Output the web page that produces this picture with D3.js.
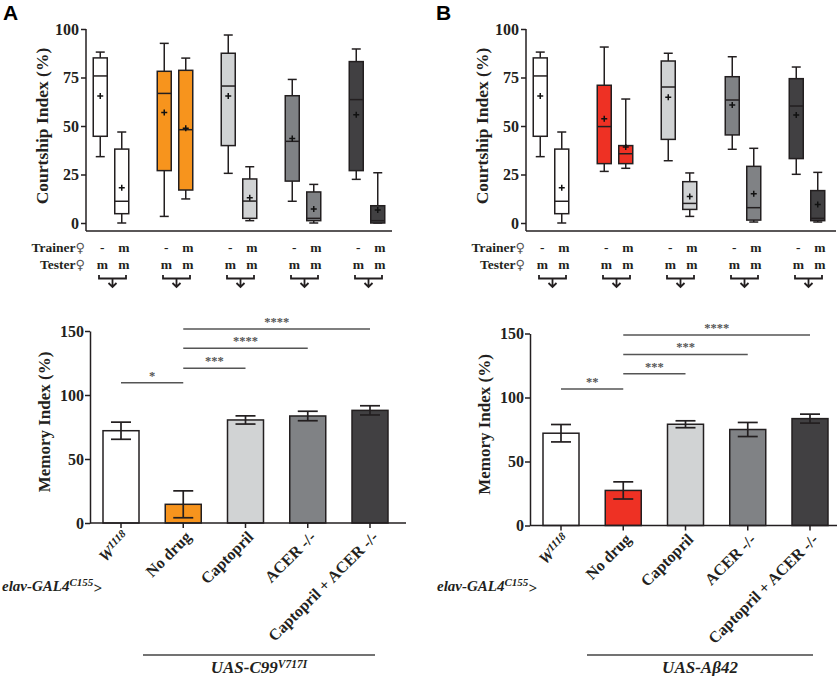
<!DOCTYPE html>
<html><head><meta charset="utf-8">
<script src="https://cdn.jsdelivr.net/npm/d3@7"></script>
<style>
body{margin:0;background:#fff;}
svg{display:block;}
text{font-family:"Liberation Serif","Times New Roman",serif;font-weight:bold;fill:#231f20;}
</style></head>
<body>
<svg id="chart" width="837" height="676"></svg>
<script>
// ---------- DATA ----------
const groups = ["W1118", "No drug", "Captopril", "ACER -/-", "Captopril + ACER -/-"];
const fillsA = ["#ffffff", "#f7941d", "#d1d3d4", "#808285", "#414042"];
const fillsB = ["#ffffff", "#ee3124", "#d1d3d4", "#808285", "#414042"];
const trainerRow = ["-", "m"];
const testerRow = ["m", "m"];
const courtTicks = [0, 25, 50, 75, 100];
const memTicks = [0, 50, 100, 150];

// Courtship index boxes: 10 boxes per panel (pairs: naive "-", trained "m")
const lowA  = [34.2, 0,   3.4, 12.4, 25.6, 1.2, 11.2, 0,   22.5, 0];
const q1A   = [44.7, 4.8, 27,  17,   39.9, 2.4, 21.6, 1.2, 27,   0];
const medA  = [75.8, 11.2,66.8,48.1, 70.6, 11.3,42.1, 2.4, 63.6, 1.2];
const q3A   = [85.1, 38.1,78.2,78.7, 87.5, 22.7,65.6, 16,  83.2, 8.9];
const highA = [88.1, 46.9,92.6,85,   96.9, 29,  74,   19.9,89.7, 25.9];
const meanA = [65.5, 18.2,57,  48.8, 65.5, 13,  43.6, 7.2, 55.8, 6.7];

const lowB  = [34.2, 0,   26.6,28.2, 32.1, 3.4, 38,   0.5, 25.1, 0.5];
const q1B   = [44.7, 4.8, 30.6,30.6, 43.1, 7,   45.4, 1.5, 33.2, 1.2];
const medB  = [75.8, 11.2,49.7,35.7, 70.1, 10.1,63.4, 7.9, 60.3, 2.4];
const q3B   = [85.1, 38.1,71,  39.9, 83.5, 21.3,75.4, 29.2,74.4, 16.7];
const highB = [88.1, 46.9,90.7,63.9, 87.5, 25.8,85.7, 38.5,80.4, 26.1];
const meanB = [65.5, 18.2,53.8,39.2, 64.8, 13.6,60.8, 15.1,55.7, 9.5];

// Memory index bars (mean ± SEM)
const memA = [72.1, 14.6, 80.5, 83.6, 88.0];
const semA = [6.7, 10.5, 3.2, 3.7, 3.6];
const memB = [72.1, 27.4, 79.1, 75.0, 83.5];
const semB = [6.8, 6.7, 2.7, 5.5, 3.5];

// Significance comparisons [from, to, label, level]
const sigA = [[0, 1, "*", 109.6], [1, 2, "***", 120.9], [1, 3, "****", 136.5], [1, 4, "****", 151.6]];
const sigB = [[0, 1, "**", 106.7], [1, 2, "***", 118.6], [1, 3, "***", 133.6], [1, 4, "****", 148.8]];

// ---------- DRAW ----------
const svg = d3.select("#chart");
const ink = "#231f20";

function panel(cfg) {
  const g = svg.append("g").attr("transform", `translate(${cfg.ox},0)`);

  g.append("text").attr("x", cfg.letterX).attr("y", 20)
    .style("font-family", "'Liberation Sans',Arial,sans-serif").style("font-size", "21px")
    .style("fill", "#000").text(cfg.letter);

  // ---- top: courtship boxplot ----
  const axX = 86;
  const y = d3.scaleLinear().domain([0, 100]).range([223, 29]);
  const gx = d3.scalePoint().domain(groups).range([111, 367]);
  const sub = d3.scalePoint().domain([0, 1]).range([-10.75, 10.75]);
  const boxW = 14, capW = 9;

  const ya = g.append("g").attr("transform", `translate(${axX},0)`)
    .call(d3.axisLeft(y).tickValues(courtTicks).tickSize(5).tickPadding(2));
  ya.select(".domain").remove();
  ya.selectAll("line").attr("stroke", ink).attr("stroke-width", 1.5);
  ya.selectAll("text").style("font-family", "'Liberation Serif',serif").style("font-weight", "bold")
    .style("font-size", "16px").attr("fill", ink);
  g.append("line").attr("x1", axX).attr("x2", axX).attr("y1", y(100)).attr("y2", 231)
    .attr("stroke", ink).attr("stroke-width", 1.5);
  g.append("line").attr("x1", axX).attr("x2", cfg.topEnd).attr("y1", 231).attr("y2", 231)
    .attr("stroke", ink).attr("stroke-width", 1.5);

  g.append("text").attr("transform", `translate(48,126) rotate(-90)`)
    .attr("text-anchor", "middle").style("font-size", "17.5px").text("Courtship Index (%)");

  const boxes = d3.range(10).map(i => ({
    gi: Math.floor(i / 2), si: i % 2,
    lo: cfg.low[i], q1: cfg.q1[i], med: cfg.med[i], q3: cfg.q3[i], hi: cfg.high[i], mean: cfg.mean[i]
  }));
  const bg = g.selectAll(".box").data(boxes).join("g")
    .attr("transform", d => `translate(${gx(groups[d.gi]) + sub(d.si)},0)`);
  bg.append("line").attr("x1", 0).attr("x2", 0).attr("y1", d => y(d.hi)).attr("y2", d => y(d.q3))
    .attr("stroke", ink).attr("stroke-width", 1.5);
  bg.append("line").attr("x1", 0).attr("x2", 0).attr("y1", d => y(d.q1)).attr("y2", d => y(d.lo))
    .attr("stroke", ink).attr("stroke-width", 1.5);
  bg.append("line").attr("x1", -capW / 2).attr("x2", capW / 2).attr("y1", d => y(d.hi)).attr("y2", d => y(d.hi))
    .attr("stroke", ink).attr("stroke-width", 1.5);
  bg.append("line").attr("x1", -capW / 2).attr("x2", capW / 2).attr("y1", d => y(d.lo)).attr("y2", d => y(d.lo))
    .attr("stroke", ink).attr("stroke-width", 1.5);
  bg.append("rect").attr("x", -boxW / 2).attr("width", boxW)
    .attr("y", d => y(d.q3)).attr("height", d => Math.max(0.5, y(d.q1) - y(d.q3)))
    .attr("fill", d => cfg.fills[d.gi]).attr("stroke", ink).attr("stroke-width", 1.5);
  bg.append("line").attr("x1", -boxW / 2).attr("x2", boxW / 2).attr("y1", d => y(d.med)).attr("y2", d => y(d.med))
    .attr("stroke", ink).attr("stroke-width", 1.5);
  bg.append("path").attr("d", d => `M-3,${y(d.mean)}h6M0,${y(d.mean) - 3}v6`)
    .attr("stroke", "#111").attr("stroke-width", 1.5);

  // trainer / tester rows
  const tr = g.append("text").attr("x", 85).attr("y", 252).attr("text-anchor", "end").style("font-size", "13.5px");
  tr.append("tspan").text("Trainer");
  tr.append("tspan").style("font-family", "'DejaVu Sans',sans-serif").style("font-weight", "normal").style("font-size", "13px").style("fill", "#555").text("♀");
  const te = g.append("text").attr("x", 85).attr("y", 269).attr("text-anchor", "end").style("font-size", "13.5px");
  te.append("tspan").text("Tester");
  te.append("tspan").style("font-family", "'DejaVu Sans',sans-serif").style("font-weight", "normal").style("font-size", "13px").style("fill", "#555").text("♀");
  const rows = g.selectAll(".rowg").data(groups).join("g")
    .attr("transform", d => `translate(${gx(d)},0)`);
  [0, 1].forEach(si => {
    rows.append("text").attr("x", sub(si) + 2).attr("y", 252).attr("text-anchor", "middle")
      .style("font-size", "13.5px").text(trainerRow[si]);
    rows.append("text").attr("x", sub(si) + 2).attr("y", 269).attr("text-anchor", "middle")
      .style("font-size", "13.5px").text(testerRow[si]);
  });
  rows.append("path").attr("d", "M-12,275V278.5H15V275M1.5,278.5V287M-2.5,283L1.5,287L5.5,283")
    .attr("fill", "none").attr("stroke", ink).attr("stroke-width", 1.8);

  // ---- bottom: memory index bars ----
  const bx = 90;
  const ym = d3.scaleLinear().domain([0, 150]).range([523 + cfg.dy, 331 + cfg.dy]);
  const xb = d3.scalePoint().domain(groups).range([121, 370]);
  const barW = 36;

  const ym0 = ym(0);
  const yb = g.append("g").attr("transform", `translate(${bx},0)`)
    .call(d3.axisLeft(ym).tickValues(memTicks).tickSize(5).tickPadding(1).tickSizeOuter(0));
  yb.select(".domain").attr("stroke", ink).attr("stroke-width", 1.5);
  yb.selectAll("line").attr("stroke", ink).attr("stroke-width", 1.5);
  yb.selectAll("text").style("font-family", "'Liberation Serif',serif").style("font-weight", "bold")
    .style("font-size", "16px").attr("fill", ink);

  g.append("text").attr("transform", `translate(50,${422 + cfg.dy}) rotate(-90)`)
    .attr("text-anchor", "middle").style("font-size", "17px").text("Memory Index (%)");

  const bars = groups.map((k, i) => ({ k, i, v: cfg.mem[i], e: cfg.sem[i] }));
  g.selectAll(".bar").data(bars).join("rect")
    .attr("x", d => xb(d.k) - barW / 2).attr("width", barW)
    .attr("y", d => ym(d.v)).attr("height", d => ym0 - ym(d.v))
    .attr("fill", d => cfg.fills[d.i]).attr("stroke", ink).attr("stroke-width", 1.5);
  const eg = g.selectAll(".err").data(bars).join("g").attr("transform", d => `translate(${xb(d.k)},0)`);
  eg.append("line").attr("y1", d => ym(d.v + d.e)).attr("y2", d => ym(d.v - d.e)).attr("stroke", ink).attr("stroke-width", 1.7);
  eg.append("line").attr("x1", -10).attr("x2", 10).attr("y1", d => ym(d.v + d.e)).attr("y2", d => ym(d.v + d.e)).attr("stroke", ink).attr("stroke-width", 1.7);
  eg.append("line").attr("x1", -10).attr("x2", 10).attr("y1", d => ym(d.v - d.e)).attr("y2", d => ym(d.v - d.e)).attr("stroke", ink).attr("stroke-width", 1.7);

  g.append("line").attr("x1", bx).attr("x2", cfg.botEnd).attr("y1", ym0).attr("y2", ym0)
    .attr("stroke", ink).attr("stroke-width", 1.5);
  g.selectAll(".xt").data(groups).join("line")
    .attr("x1", d => xb(d)).attr("x2", d => xb(d)).attr("y1", ym0).attr("y2", ym0 + 5)
    .attr("stroke", ink).attr("stroke-width", 1.5);

  const lab = g.selectAll(".xl").data(groups).join("text")
    .attr("transform", d => `translate(${xb(d) + 5},${ym0 + 11}) rotate(-45)`)
    .attr("text-anchor", "end").attr("dy", "0.35em").style("font-size", "16px");
  lab.each(function (d) {
    const t = d3.select(this);
    if (d === "W1118") {
      t.append("tspan").style("font-style", "italic").text("W");
      t.append("tspan").attr("dy", "-0.45em").style("font-size", "11px").style("font-style", "italic").text("1118");
    } else t.text(d);
  });

  g.selectAll(".sigl").data(cfg.sig).join("line")
    .attr("x1", d => xb(groups[d[0]])).attr("x2", d => xb(groups[d[1]]))
    .attr("y1", d => ym(d[3])).attr("y2", d => ym(d[3]))
    .attr("stroke", "#555").attr("stroke-width", 1.5);
  g.selectAll(".sigt").data(cfg.sig).join("text")
    .attr("x", d => (xb(groups[d[0]]) + xb(groups[d[1]])) / 2).attr("y", d => ym(d[3]) - 3)
    .attr("text-anchor", "middle").style("font-size", "12.5px").style("fill", "#555").text(d => d[2]);

  const el = g.append("text").attr("x", cfg.elavX).attr("y", 591).style("font-size", "15px").style("font-style", "italic");
  el.append("tspan").text("elav-GAL4");
  el.append("tspan").attr("dy", "-0.45em").style("font-size", "11px").text("C155");
  el.append("tspan").attr("dy", "0.45em").text(">");

  g.append("line").attr("x1", cfg.uasX1).attr("x2", cfg.uasX2).attr("y1", 655).attr("y2", 655)
    .attr("stroke", "#444").attr("stroke-width", 1.5);
  const ut = g.append("text").attr("x", (cfg.uasX1 + cfg.uasX2) / 2).attr("y", 673)
    .attr("text-anchor", "middle").style("font-size", "17px").style("font-style", "italic");
  ut.append("tspan").text(cfg.uas[0]);
  if (cfg.uas[1]) ut.append("tspan").attr("dy", "-0.45em").style("font-size", "11.5px").text(cfg.uas[1]);
}

panel({ ox: 0, letter: "A", letterX: 3, fills: fillsA, low: lowA, q1: q1A, med: medA, q3: q3A, high: highA, mean: meanA,
  mem: memA, sem: semA, sig: sigA, dy: 0, topEnd: 392, botEnd: 406, elavX: 2, uasX1: 143, uasX2: 375, uas: ["UAS-C99", "V717I"] });
panel({ ox: 440, letter: "B", letterX: -4, fills: fillsB, low: lowB, q1: q1B, med: medB, q3: q3B, high: highB, mean: meanB,
  mem: memB, sem: semB, sig: sigB, dy: 2.5, topEnd: 396, botEnd: 397, elavX: -3, uasX1: 147, uasX2: 373, uas: ["UAS-Aβ42"] });
</script>
</body></html>
